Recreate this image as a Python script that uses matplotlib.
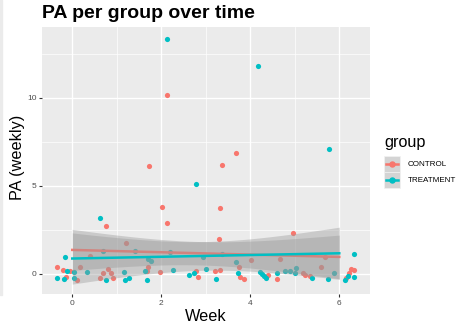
import numpy as np
import matplotlib
matplotlib.use('Agg')
import matplotlib.pyplot as plt
from matplotlib.patches import Rectangle
from matplotlib.lines import Line2D

plt.rcParams['font.family'] = ['Liberation Sans', 'DejaVu Sans']

# --- data (x is the jittered week) ---
groups = ['CONTROL', 'TREATMENT']
colors = ['#F8766D', '#00BFC4']

control_week = [2.13, 1.72, 3.37, 3.69, 2.02, 3.33, 0.76, 1.20, 0.40, -0.35,
                -0.20, -0.06, 0.17, -0.13, 0.11, 0.62, 0.70, 0.81, 0.87, 0.91,
                1.67, 1.71, 2.12, 3.30, 3.74, 4.01, 1.97, 2.77, 2.83, 3.21,
                3.32, 3.78, 3.86, 4.97, 4.67, 5.69, 5.60, 4.39, 4.61, 5.19,
                5.24, 5.34, 6.26, 6.34, 6.21, 6.16]
control_pa = [10.14, 6.10, 6.16, 6.84, 3.77, 3.73, 2.69, 1.76, 0.99, 0.38,
              0.21, 0.14, 0.38, -0.19, -0.34, -0.26, 0.04, 0.27, 0.04, -0.24,
              0.15, 0.38, 2.90, 1.97, 0.40, 0.78, 0.10, 0.15, -0.19, 0.14,
              0.21, -0.17, -0.30, 2.31, 0.85, 0.97, 0.40, -0.09, -0.30, 0.04,
              -0.09, -0.13, 0.28, 0.23, 0.04, -0.24]

treatment_week = [2.13, 4.17, 5.76, 2.77, 0.62, 0.68, 1.40, -0.16, -0.11, 0.05,
                  0.32, -0.34, -0.19, 0.05, 0.76, 1.16, 1.19, 1.28, 1.67, 1.64,
                  1.71, 1.76, 2.19, 2.94, 3.37, 3.69, 2.26, 2.74, 2.63, 3.00,
                  3.23, 3.73, 6.34, 4.21, 4.26, 4.30, 4.35, 4.60, 4.78, 4.89,
                  5.02, 5.01, 5.38, 5.75, 5.87, 6.19, 6.13, 6.33]
treatment_pa = [13.33, 11.80, 7.08, 5.11, 3.15, 1.27, 1.31, 0.97, 0.15, 0.10,
                0.11, -0.24, -0.32, -0.24, -0.38, 0.11, -0.38, -0.23, -0.38, 0.15,
                0.85, 0.70, 1.23, 0.95, 1.14, 0.66, 0.21, 0.02, -0.06, 0.25,
                -0.32, 0.02, 1.10, 0.11, -0.03, -0.15, -0.26, 0.06, 0.15, 0.15,
                0.31, 0.02, -0.26, -0.28, 0.06, -0.11, -0.36, -0.19]

x_ticks = [0, 2, 4, 6]
y_ticks = [0, 5, 10]

W, H = 460, 331


def lm_smooth(week_jit, pa):
    # linear fit on the un-jittered week, 95% band like geom_smooth(method="lm")
    x = np.round(np.asarray(week_jit))
    y = np.asarray(pa)
    n = len(x)
    b, a = np.polyfit(x, y, 1)
    resid = y - (a + b * x)
    s = np.sqrt(resid @ resid / (n - 2))
    xs = np.linspace(x.min(), x.max(), 100)
    se = s * np.sqrt(1 / n + (xs - x.mean()) ** 2 / ((x - x.mean()) ** 2).sum())
    return xs, a + b * xs, 2.0 * se


def fx(px):
    return px / W


def fy(py):
    return 1 - py / H


fig = plt.figure(figsize=(4.6, 3.31), dpi=100)
ax = fig.add_axes([fx(42), fy(294.3), 328 / W, 267.6 / H])
ax.set_facecolor('#EBEBEB')

series = [(control_week, control_pa), (treatment_week, treatment_pa)]

# points first, smooths on top (ggplot layer order)
for (wk, pa), c in zip(series, colors):
    ax.scatter(wk, pa, s=14, color=c, linewidths=0, zorder=2)

for (wk, pa), c in zip(series, colors):
    xs, fit, ci = lm_smooth(wk, pa)
    ax.fill_between(xs, fit - ci, fit + ci, color='#999999', alpha=0.4,
                    linewidth=0, zorder=3)
    ax.plot(xs, fit, color=c, lw=1.8, zorder=3)

ax.set_xlim(-0.68, 6.69)
ax.set_ylim(-1.17, 14.03)
ax.set_xticks(x_ticks)
ax.set_yticks(y_ticks)
ax.set_xticks([1, 3, 5], minor=True)
ax.set_yticks([2.5, 7.5, 12.5], minor=True)
ax.grid(which='major', color='white', lw=1.0)
ax.grid(which='minor', color='white', lw=0.5)
ax.set_axisbelow(True)
for sp in ax.spines.values():
    sp.set_visible(False)
ax.tick_params(which='major', length=2.5, width=0.8, color='#333333',
               labelsize=6, labelcolor='#4D4D4D', pad=1.5)
ax.tick_params(which='minor', length=0)

fig.text(fx(42), fy(13), 'PA per group over time', fontsize=14,
         fontweight='bold', ha='left', va='center', color='black')
fig.text(fx(206), fy(316.7), 'Week', fontsize=11.7, ha='center', va='center')
fig.text(fx(18), fy(157), 'PA (weekly)', fontsize=11.7, ha='center',
         va='center', rotation=90)

# legend drawn by hand to get ggplot's square grey keys
fig.text(fx(384), fy(142), 'group', fontsize=11.7, ha='left', va='center')
key_top = 156
key = 16
for i, (g, c) in enumerate(zip(groups, colors)):
    y0 = key_top + i * key
    yc = y0 + key / 2
    fig.patches.append(Rectangle((fx(384), fy(y0 + key)), key / W, key / H,
                                 transform=fig.transFigure,
                                 facecolor='#D4D4D4', edgecolor='#F2F2F2',
                                 lw=0.5))
    fig.lines.append(Line2D([fx(386), fx(398)], [fy(yc), fy(yc)],
                            transform=fig.transFigure, color=c, lw=1.8))
    fig.lines.append(Line2D([fx(392)], [fy(yc)], transform=fig.transFigure,
                            color=c, marker='o', ms=3.6, lw=0))
    fig.text(fx(408), fy(yc), g, fontsize=5.75, ha='left', va='center',
             color='black')

# thin grey strip on the left edge of the reference
fig.patches.append(Rectangle((0, fy(295)), 2 / W, 295 / H,
                             transform=fig.transFigure, color='#EBEBEB'))

fig.savefig('out.png', dpi=100)
